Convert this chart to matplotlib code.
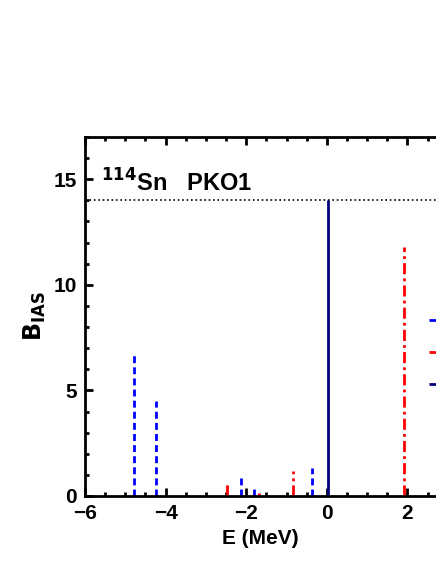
import matplotlib
matplotlib.use("Agg")
import matplotlib.pyplot as plt
from matplotlib.ticker import MultipleLocator

plt.rcParams['font.family'] = ['Liberation Sans', 'DejaVu Sans']

blue_E = [-4.79, -4.24, -2.12, -1.81, -0.37]
blue_B = [6.7, 4.5, 0.95, 0.52, 1.33]
red_E = [-2.47, -1.69, -0.83, 1.92]
red_B = [0.7, 0.15, 1.18, 11.8]
navy_E = [0.04]
navy_B = [14.0]
sum_rule = 14.0

fig = plt.figure(figsize=(4.36, 5.64), dpi=100)
ax = fig.add_axes([0.195, 0.1206, 0.805, 0.6365])

ax.vlines(blue_E, 0, blue_B, colors='#0000ff', linestyles=(0, (2.5, 1.5)), lw=2, label=' ')
ax.vlines(red_E, 0, red_B, colors='#ff0000', linestyles=(0, (4, 1.5, 1, 1.5)), lw=2, label=' ')
ax.vlines(navy_E, 0, navy_B, colors='#000080', linestyles='solid', lw=2, label=' ')
ax.axhline(sum_rule, color='black', ls=':', lw=1.2)

ax.set_xlim(-6, 2.71)
ax.set_ylim(0, 17)
ax.xaxis.set_major_locator(MultipleLocator(2))
ax.xaxis.set_minor_locator(MultipleLocator(0.5))
ax.yaxis.set_major_locator(MultipleLocator(5))
ax.yaxis.set_minor_locator(MultipleLocator(1))
ax.tick_params(which='both', direction='in', top=True, labelsize=15, width=2, pad=6)
ax.tick_params(which='major', length=6)
ax.tick_params(which='minor', length=3)
for l in ax.get_xticklabels() + ax.get_yticklabels():
    l.set_fontweight('bold')
for s in ['left', 'bottom', 'top']:
    ax.spines[s].set_linewidth(2)
ax.spines['right'].set_visible(False)

ax.set_xlabel('E (MeV)', fontsize=15, fontweight='bold')
ax.set_ylabel(r'$\mathbf{B}_{\mathbf{IAS}}$', fontsize=17)
ax.text(0.045, 0.91, r'$^{\mathbf{114}}$Sn   PKO1', transform=ax.transAxes,
        fontsize=17, fontweight='bold', va='top')

ax.legend(loc='upper left', bbox_to_anchor=(0.955, 0.53), frameon=False,
          handlelength=2, labelspacing=1.0, fontsize=12, borderpad=0)

fig.savefig('out.png', dpi=100)
